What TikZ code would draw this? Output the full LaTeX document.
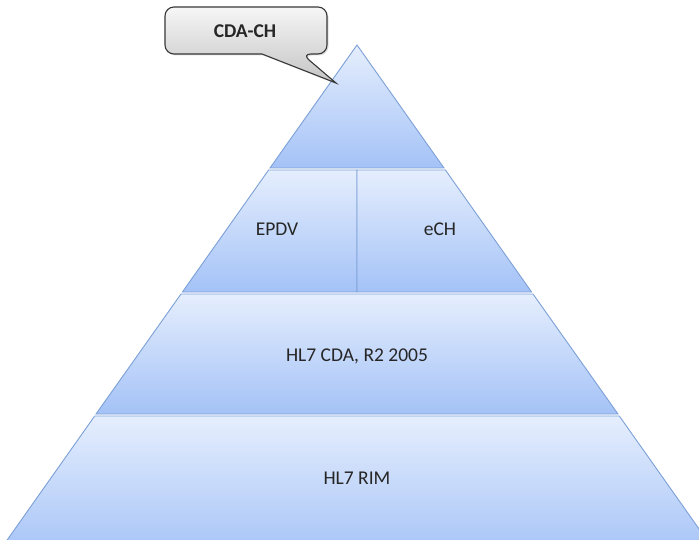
\documentclass[tikz,border=0pt]{standalone}
\usepackage{fontspec}
\setmainfont{Carlito}
\usetikzlibrary{shadows}

\definecolor{lyrtop}{RGB}{229,238,253}
\definecolor{lyrbot}{RGB}{164,194,247}
\definecolor{lyrline}{RGB}{124,160,214}
\definecolor{cltop}{RGB}{246,246,246}
\definecolor{clbot}{RGB}{196,196,196}

\begin{document}
\begin{tikzpicture}[x=1pt,y=-1pt,
  layer/.style={draw=lyrline, line width=0.9pt, top color=lyrtop, bottom color=lyrbot},
  label/.style={anchor=base, font=\fontsize{19.5}{23}\selectfont, text=black!85},
  bubble/.style={draw=black!78, line width=1.1pt, top color=cltop, bottom color=clbot,
    drop shadow={opacity=0.25, shadow xshift=1.5pt, shadow yshift=-1.5pt}}]
  \useasboundingbox (0,0) rectangle (699,540);

  \begin{scope}
    \clip (0,0) rectangle (699,540);
    \path[layer] (357,45) -- (444,168) -- (270,168) -- cycle;
    \path[layer] (268.6,170) -- (357,170) -- (357,292) -- (182.4,292) -- cycle;
    \path[layer] (357,170) -- (445.4,170) -- (531.6,292) -- (357,292) -- cycle;
    \path[layer] (181,294) -- (533,294) -- (618,414) -- (96,414) -- cycle;
    \path[layer] (94.7,416) -- (619.3,416) -- (721,560) -- (-7,560) -- cycle;
  \end{scope}

  \node[label] (epdv) at (277,236) {EPDV};
  \node[label] (ech) at (440,236) {eCH};
  \node[label] (cda) at (357,361.5) {HL7 CDA, R2 2005};
  \node[label] (rim) at (357,484) {HL7 RIM};

  % callout
  \path[bubble, rounded corners=9pt] (165,30) -- (165,7) -- (327,7) -- (327,54) -- (302,54)
    [sharp corners] -- (336,83) -- (262,54) [rounded corners=9pt] -- (165,54) -- cycle;
  \node[label, font=\fontsize{19.5}{23}\selectfont\bfseries] (cdach) at (245,38) {CDA-CH};
\end{tikzpicture}
\end{document}
